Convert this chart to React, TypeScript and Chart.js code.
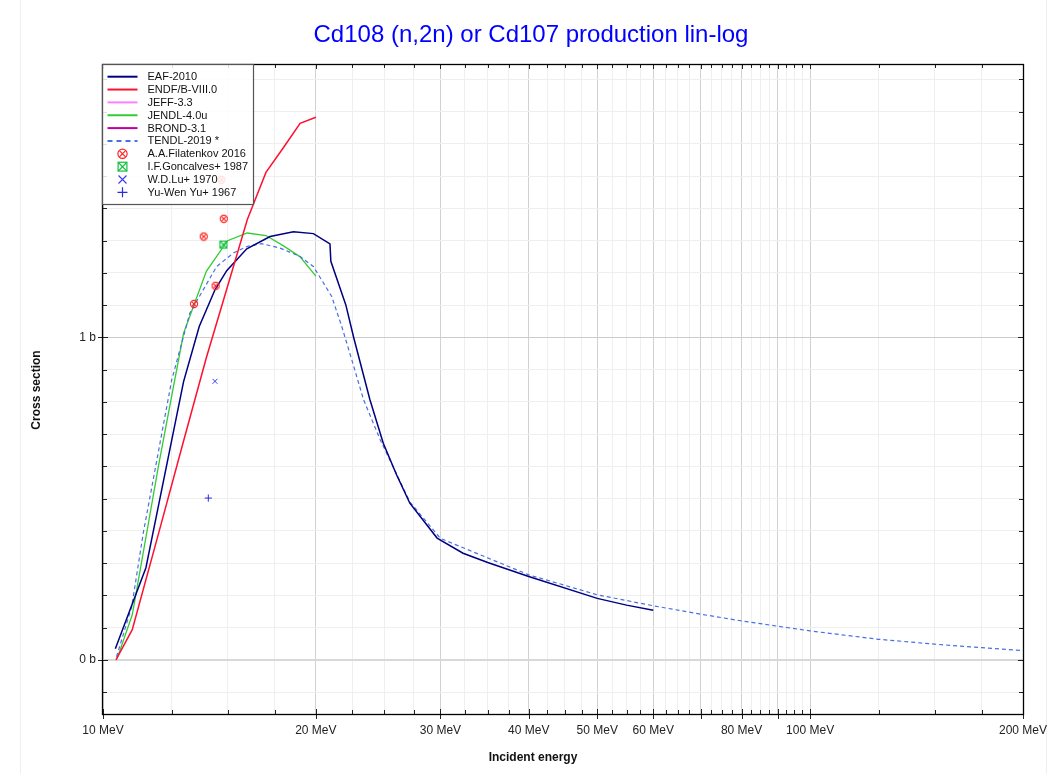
import React, { useEffect, useRef } from "react";
import { Chart, registerables } from "chart.js";
Chart.register(...registerables);

// ---------------- data ----------------
const eafE = [10.41, 11.5, 12.0, 13.0, 13.68, 14.4, 14.96, 15.97, 17.23, 18.59, 19.84, 20.94, 21.0, 22.05, 22.62, 23.85, 24.91, 26.0, 27.16, 29.68, 32.3, 35, 40, 50, 55, 60];
const eafS = [0.035, 0.286, 0.486, 0.863, 1.034, 1.148, 1.207, 1.275, 1.313, 1.328, 1.322, 1.29, 1.236, 1.101, 1.0, 0.807, 0.672, 0.575, 0.486, 0.378, 0.331, 0.302, 0.259, 0.191, 0.17, 0.154];

const endfE = [10.43, 11, 12, 13, 14, 15, 16, 17, 18, 19, 20];
const endfS = [0, 0.094, 0.397, 0.679, 0.937, 1.158, 1.366, 1.512, 1.589, 1.664, 1.683];

const jeffE: number[] = [];
const jeffS: number[] = [];

const jendlE = [10.47, 11, 12, 13, 14, 15, 16, 17, 18, 19, 20];
const jendlS = [0.004, 0.14, 0.61, 1.013, 1.205, 1.3, 1.324, 1.316, 1.284, 1.25, 1.19];

const brondE: number[] = [];
const brondS: number[] = [];

const tendlE = [10.45, 10.98, 11.4, 12.51, 13.27, 14.48, 15.29, 15.97, 16.77, 17.8, 19.0, 19.84, 21.06, 21.76, 22.48, 23.36, 24.66, 27.16, 30, 40, 50, 60, 70, 80, 100, 125, 150, 175, 200];
const tendlS = [0.01, 0.165, 0.393, 0.869, 1.076, 1.22, 1.262, 1.282, 1.291, 1.277, 1.251, 1.22, 1.127, 1.034, 0.931, 0.807, 0.683, 0.49, 0.377, 0.264, 0.202, 0.168, 0.142, 0.121, 0.09, 0.064, 0.049, 0.038, 0.029];

const filE = [13.45, 13.88, 14.43, 14.82, 14.7];
const filS = [1.104, 1.313, 1.16, 1.368, 1.489];

const gonE = [14.8];
const gonS = [1.288];

const luE = [14.4];
const luS = [0.864];

const yuE = [14.09];
const yuS = [0.502];

const xLabelValues = [10, 20, 30, 40, 50, 60, 80, 100, 200];
const yLabelValues = [0, 1];
const yLabelTexts = ["0 b", "1 b"];

const TITLE = "Cd108 (n,2n) or Cd107 production lin-log";
const X_TITLE = "Incident energy";
const Y_TITLE = "Cross section";

const X_MIN = 10;
const X_MAX = 200;
const Y_MIN = -0.1676;
const Y_MAX = 1.848;

// ---------------- helpers ----------------
const FONT = "Arial, 'Liberation Sans', Helvetica, sans-serif";

function xTickValues(): number[] {
  const out: number[] = [];
  for (let dec = 10; dec < X_MAX; dec *= 10) {
    for (let m = 1; m < 10; m += 0.25) {
      const v = Math.round(m * dec * 1000) / 1000;
      if (v >= X_MIN && v <= X_MAX) out.push(v);
    }
  }
  return out;
}
function isMajorX(v: number) {
  const dec = Math.pow(10, Math.floor(Math.log10(v) + 1e-9));
  const r = v / dec;
  return Math.abs(r - Math.round(r)) < 1e-6;
}
function yTickValues(): number[] {
  const out: number[] = [];
  for (let i = -1; i <= 18; i++) out.push(Math.round(i) / 10);
  return out;
}
const pts = (E: number[], S: number[]) => E.map((e, i) => ({ x: e, y: S[i] }));

function drawCircleX(ctx: CanvasRenderingContext2D, cx: number, cy: number, r: number, color: string, lw: number) {
  ctx.save();
  ctx.strokeStyle = color;
  ctx.lineWidth = lw;
  ctx.beginPath();
  ctx.arc(cx, cy, r, 0, Math.PI * 2);
  ctx.stroke();
  const d = r * 0.68;
  ctx.beginPath();
  ctx.moveTo(cx - d, cy - d);
  ctx.lineTo(cx + d, cy + d);
  ctx.moveTo(cx + d, cy - d);
  ctx.lineTo(cx - d, cy + d);
  ctx.stroke();
  ctx.restore();
}
function drawSquareX(ctx: CanvasRenderingContext2D, cx: number, cy: number, r: number, color: string, lw: number) {
  ctx.save();
  ctx.strokeStyle = color;
  ctx.lineWidth = lw;
  ctx.strokeRect(cx - r, cy - r, 2 * r, 2 * r);
  ctx.beginPath();
  ctx.moveTo(cx - r, cy - r);
  ctx.lineTo(cx + r, cy + r);
  ctx.moveTo(cx + r, cy - r);
  ctx.lineTo(cx - r, cy + r);
  ctx.stroke();
  ctx.restore();
}
function drawCross(ctx: CanvasRenderingContext2D, cx: number, cy: number, r: number, color: string, lw: number, rot: boolean) {
  ctx.save();
  ctx.strokeStyle = color;
  ctx.lineWidth = lw;
  ctx.beginPath();
  if (rot) {
    ctx.moveTo(cx - r, cy - r);
    ctx.lineTo(cx + r, cy + r);
    ctx.moveTo(cx + r, cy - r);
    ctx.lineTo(cx - r, cy + r);
  } else {
    ctx.moveTo(cx - r, cy);
    ctx.lineTo(cx + r, cy);
    ctx.moveTo(cx, cy - r);
    ctx.lineTo(cx, cy + r);
  }
  ctx.stroke();
  ctx.restore();
}
function makeImg(size: number, fn: (c: CanvasRenderingContext2D) => void) {
  const c = document.createElement("canvas");
  c.width = size;
  c.height = size;
  const g = c.getContext("2d")!;
  fn(g);
  return c;
}

const C_EAF = "#000080";
const C_ENDF = "#ff1030";
const C_JEFF = "#ff80ff";
const C_JENDL = "#33cc33";
const C_BROND = "#c000a0";
const C_TENDL = "#4a6ee6";
const C_FIL = "#ff2020";
const C_GON = "#12c040";
const C_LU = "#3a3af0";
const C_YU = "#2a2ae0";

type LegendItem = { label: string; kind: "line" | "dash" | "circlex" | "squarex" | "x" | "plus"; color: string };
const legendItems: LegendItem[] = [
  { label: "EAF-2010", kind: "line", color: C_EAF },
  { label: "ENDF/B-VIII.0", kind: "line", color: C_ENDF },
  { label: "JEFF-3.3", kind: "line", color: C_JEFF },
  { label: "JENDL-4.0u", kind: "line", color: C_JENDL },
  { label: "BROND-3.1", kind: "line", color: C_BROND },
  { label: "TENDL-2019 *", kind: "dash", color: C_TENDL },
  { label: "A.A.Filatenkov 2016", kind: "circlex", color: C_FIL },
  { label: "I.F.Goncalves+ 1987", kind: "squarex", color: C_GON },
  { label: "W.D.Lu+ 1970", kind: "x", color: C_LU },
  { label: "Yu-Wen Yu+ 1967", kind: "plus", color: C_YU },
];

const X_TICKS = xTickValues();
const Y_TICKS = yTickValues();

const framePlugin = {
  id: "frame",
  beforeDraw(chart: any) {
    const ctx = chart.ctx as CanvasRenderingContext2D;
    ctx.save();
    ctx.fillStyle = "#ffffff";
    ctx.fillRect(0, 0, chart.width, chart.height);
    ctx.strokeStyle = "#efefef";
    ctx.lineWidth = 1;
    ctx.beginPath();
    ctx.moveTo(20.5, 0);
    ctx.lineTo(20.5, chart.height);
    ctx.moveTo(1046.5, 0);
    ctx.lineTo(1046.5, chart.height);
    ctx.stroke();
    ctx.restore();
  },
  afterDraw(chart: any) {
    const ctx = chart.ctx as CanvasRenderingContext2D;
    const { left, right, top, bottom } = chart.chartArea;
    const xs = chart.scales.x;
    const ys = chart.scales.y;
    ctx.save();
    // ticks
    ctx.strokeStyle = "#222";
    ctx.lineWidth = 1;
    ctx.beginPath();
    for (const v of X_TICKS) {
      const px = Math.round(xs.getPixelForValue(v)) + 0.5;
      const major = isMajorX(v);
      ctx.moveTo(px, bottom + (major ? 5 : 0));
      ctx.lineTo(px, bottom - (major ? 5 : 4));
      ctx.moveTo(px, top);
      ctx.lineTo(px, top + (major ? 5 : 4));
    }
    for (const v of Y_TICKS) {
      const py = Math.round(ys.getPixelForValue(v)) + 0.5;
      const major = yLabelValues.some((l) => Math.abs(l - v) < 1e-9);
      ctx.moveTo(left - (major ? 5 : 0), py);
      ctx.lineTo(left + (major ? 5 : 4), py);
      ctx.moveTo(right, py);
      ctx.lineTo(right - (major ? 5 : 4), py);
    }
    ctx.stroke();
    // frame
    ctx.strokeStyle = "#000";
    ctx.lineWidth = 1.3;
    ctx.strokeRect(Math.round(left) - 0.5, Math.round(top) + 0.5, Math.round(right) - Math.round(left) + 1, Math.round(bottom) - Math.round(top));

    // legend
    const lx = Math.round(left) - 0.5;
    const ly = Math.round(top) + 0.5;
    const lw = 151;
    const lh = 140;
    ctx.fillStyle = "rgba(255,255,255,0.85)";
    ctx.fillRect(lx, ly, lw, lh);
    ctx.strokeStyle = "#555";
    ctx.lineWidth = 1.2;
    ctx.strokeRect(lx, ly, lw, lh);
    ctx.font = `11px ${FONT}`;
    ctx.textBaseline = "middle";
    ctx.textAlign = "left";
    legendItems.forEach((it, i) => {
      const y = 76.7 + i * 12.85;
      const sx = lx + 5;
      const ex = lx + 35;
      const cx = (sx + ex) / 2;
      if (it.kind === "line" || it.kind === "dash") {
        ctx.save();
        ctx.strokeStyle = it.color;
        ctx.lineWidth = 2;
        if (it.kind === "dash") ctx.setLineDash([5, 4]);
        ctx.beginPath();
        ctx.moveTo(sx, y);
        ctx.lineTo(ex, y);
        ctx.stroke();
        ctx.restore();
      } else if (it.kind === "circlex") drawCircleX(ctx, cx, y, 4.6, it.color, 1.2);
      else if (it.kind === "squarex") drawSquareX(ctx, cx, y, 4.4, it.color, 1.2);
      else if (it.kind === "x") drawCross(ctx, cx, y, 4, it.color, 1.1, true);
      else drawCross(ctx, cx, y, 5, it.color, 1.2, false);
      ctx.fillStyle = "#111";
      ctx.fillText(it.label, lx + 45, y + 0.5);
    });

    // titles
    ctx.fillStyle = "#0000ff";
    ctx.font = `24px ${FONT}`;
    ctx.textAlign = "center";
    ctx.textBaseline = "middle";
    ctx.fillText(TITLE, 531, 35);
    ctx.fillStyle = "#111";
    ctx.font = `bold 12px ${FONT}`;
    ctx.fillText(X_TITLE, 533, 758);
    ctx.save();
    ctx.translate(37, 390);
    ctx.rotate(-Math.PI / 2);
    ctx.fillText(Y_TITLE, 0, 0);
    ctx.restore();
    ctx.restore();
  },
};

export default function App() {
  const ref = useRef<HTMLCanvasElement>(null);
  useEffect(() => {
    document.body.style.margin = "0";
    const canvas = ref.current!;
    const filImg = makeImg(10, (g) => drawCircleX(g, 5, 5, 3.6, C_FIL, 1.1));
    const gonImg = makeImg(10, (g) => drawSquareX(g, 5, 5, 3.5, C_GON, 1.1));

    const chart = new Chart(canvas, {
      type: "line",
      data: {
        datasets: [
          { label: "A.A.Filatenkov 2016", data: pts(filE, filS), showLine: false, pointStyle: filImg as any, pointRadius: 5, order: 0 },
          { label: "I.F.Goncalves+ 1987", data: pts(gonE, gonS), showLine: false, pointStyle: gonImg as any, pointRadius: 5, order: 0 },
          { label: "W.D.Lu+ 1970", data: pts(luE, luS), showLine: false, pointStyle: "crossRot", pointRadius: 3.4, borderColor: C_LU, borderWidth: 1, order: 0 },
          { label: "Yu-Wen Yu+ 1967", data: pts(yuE, yuS), showLine: false, pointStyle: "cross", pointRadius: 3.6, borderColor: C_YU, borderWidth: 1, order: 0 },
          { label: "ENDF/B-VIII.0", data: pts(endfE, endfS), borderColor: C_ENDF, borderWidth: 1.5, pointRadius: 0, order: 1 },
          { label: "EAF-2010", data: pts(eafE, eafS), borderColor: C_EAF, borderWidth: 1.5, pointRadius: 0, order: 2 },
          { label: "TENDL-2019 *", data: pts(tendlE, tendlS), borderColor: C_TENDL, borderWidth: 1.2, borderDash: [4, 3], pointRadius: 0, order: 3 },
          { label: "JENDL-4.0u", data: pts(jendlE, jendlS), borderColor: C_JENDL, borderWidth: 1.3, pointRadius: 0, order: 4 },
          { label: "BROND-3.1", data: pts(brondE, brondS), borderColor: C_BROND, borderWidth: 1.5, pointRadius: 0, order: 5 },
          { label: "JEFF-3.3", data: pts(jeffE, jeffS), borderColor: C_JEFF, borderWidth: 1.5, pointRadius: 0, order: 6 },
        ],
      },
      options: {
        responsive: false,
        animation: false,
        events: [],
        layout: { padding: { left: 0, top: 64, right: 37, bottom: 0 } },
        plugins: { legend: { display: false }, title: { display: false }, tooltip: { enabled: false } },
        elements: { line: { tension: 0, fill: false } },
        scales: {
          x: {
            type: "logarithmic",
            min: X_MIN,
            max: X_MAX,
            afterBuildTicks: (s: any) => {
              s.ticks = X_TICKS.map((v) => ({ value: v }));
            },
            afterFit: (s: any) => {
              s.height = 60;
            },
            border: { display: false },
            grid: {
              drawTicks: false,
              color: (c: any) => (isMajorX(c.tick.value) ? "#d2d2d2" : "#efefef"),
              lineWidth: 1,
            },
            ticks: {
              autoSkip: false,
              maxRotation: 0,
              minRotation: 0,
              padding: 9,
              color: "#222",
              font: { family: FONT, size: 12 },
              callback: (v: any) => (xLabelValues.indexOf(Number(v)) >= 0 ? `${v} MeV` : ""),
            },
          },
          y: {
            type: "linear",
            min: Y_MIN,
            max: Y_MAX,
            afterBuildTicks: (s: any) => {
              s.ticks = Y_TICKS.map((v) => ({ value: v }));
            },
            afterFit: (s: any) => {
              s.width = 103;
            },
            border: { display: false },
            grid: {
              drawTicks: false,
              color: (c: any) => {
                const v = c.tick.value;
                if (Math.abs(v) < 1e-9) return "#d8d8d8";
                if (Math.abs(v - 1) < 1e-9) return "#cccccc";
                return "#efefef";
              },
              lineWidth: (c: any) => (Math.abs(c.tick.value) < 1e-9 ? 2 : 1),
            },
            ticks: {
              autoSkip: false,
              padding: 7,
              color: "#222",
              font: { family: FONT, size: 12 },
              callback: (v: any) => {
                const i = yLabelValues.findIndex((l) => Math.abs(l - Number(v)) < 1e-9);
                return i >= 0 ? yLabelTexts[i] : "";
              },
            },
          },
        },
      },
      plugins: [framePlugin as any],
    });
    return () => chart.destroy();
  }, []);
  return (
    <div style={{ width: 1060, height: 774, position: "relative" }}>
      <canvas ref={ref} width={1060} height={774} style={{ display: "block" }} />
    </div>
  );
}
